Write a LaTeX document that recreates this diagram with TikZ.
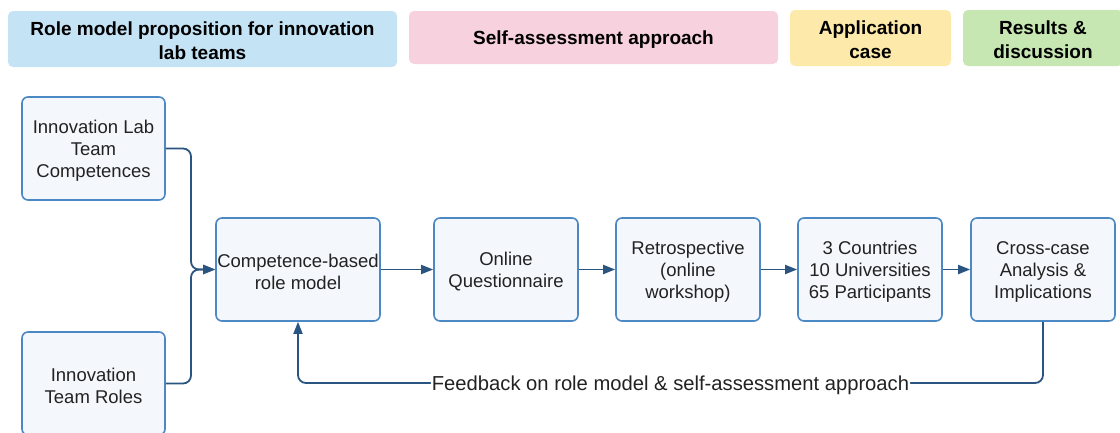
\documentclass[tikz,border=0pt]{standalone}
\usepackage{fontspec}
\setmainfont{Liberation Sans}
\usetikzlibrary{arrows.meta}
\definecolor{boxborder}{HTML}{4C88C4}
\definecolor{boxfill}{HTML}{F4F8FC}
\definecolor{arrc}{HTML}{2A5580}
\definecolor{hblue}{HTML}{C4E3F5}
\definecolor{hpink}{HTML}{F8D1DF}
\definecolor{hyellow}{HTML}{FDE9A9}
\definecolor{hgreen}{HTML}{C7E7B2}
\definecolor{txt}{HTML}{222222}
\tikzset{
  procbox/.style={draw=boxborder, fill=boxfill, line width=1.6pt, rounded corners=6pt,
    inner sep=0pt, minimum height=103pt},
  proctext/.style={align=center, text=txt, font=\fontsize{18.5}{22}\selectfont, inner sep=0pt},
  headbox/.style={rounded corners=5pt, inner sep=0pt},
  headtext/.style={align=center, text=black, font=\fontsize{19}{24}\selectfont\bfseries, inner sep=0pt},
  conn/.style={draw=arrc, line width=1.8pt, rounded corners=8pt},
  arr/.style={conn, -{Triangle[length=12pt,width=9pt]}},
}
\begin{document}
\begin{tikzpicture}[x=1pt,y=-1pt]
\useasboundingbox (0,0) rectangle (1120,432);
% headers
\node[headbox, fill=hblue, minimum width=389pt, minimum height=56pt] (h1) at (202.5,39) {};
\node[headtext] (h1t) at ([yshift=-2pt]h1.center) {Role model proposition for innovation\\lab teams};
\node[headbox, fill=hpink, minimum width=369pt, minimum height=53pt] (h2) at (593.5,37.5) {};
\node[headtext] (h2t) at ([yshift=-2pt]h2.center) {Self-assessment approach};
\node[headbox, fill=hyellow, minimum width=161pt, minimum height=56pt] (h3) at (870.5,38) {};
\node[headtext] (h3t) at ([yshift=-2pt]h3.center) {Application\\case};
\node[headbox, fill=hgreen, minimum width=160pt, minimum height=56pt] (h4) at (1043,38) {};
\node[headtext] (h4t) at ([yshift=-2pt]h4.center) {Results \&\\discussion};
% process boxes
\node[procbox, minimum width=143pt] (comp) at (93.5,148.5) {};
\node[proctext] (compt) at ([yshift=-2pt]comp.center) {Innovation Lab\\Team\\Competences};
\node[procbox, minimum width=143pt] (roles) at (93.5,383.5) {};
\node[proctext] (rolest) at ([yshift=-2pt]roles.center) {Innovation\\Team Roles};
\node[procbox, minimum width=164pt] (crbm) at (298,269.5) {};
\node[proctext] (crbmt) at ([yshift=-2pt]crbm.center) {Competence-based\\role model};
\node[procbox, minimum width=144pt] (onq) at (506,269.5) {};
\node[proctext] (onqt) at ([yshift=-2pt]onq.center) {Online\\Questionnaire};
\node[procbox, minimum width=144pt] (retro) at (688,269.5) {};
\node[proctext] (retrot) at ([yshift=-2pt]retro.center) {Retrospective\\(online\\workshop)};
\node[procbox, minimum width=144pt] (ctry) at (870,269.5) {};
\node[proctext] (ctryt) at ([yshift=-2pt]ctry.center) {3 Countries\\10 Universities\\65 Participants};
\node[procbox, minimum width=144pt] (cross) at (1043,269.5) {};
\node[proctext] (crosst) at ([yshift=-2pt]cross.center) {Cross-case\\Analysis \&\\Implications};
% connectors
\coordinate (j) at (191,269.5);
\draw[arr] (comp.east) -- (j |- comp.east) -- (j) -- (crbm.west);
\draw[arr] (roles.east) -- (j |- roles.east) -- (j) -- (crbm.west);
\draw[arr] (crbm) -- (onq);
\draw[arr] (onq) -- (retro);
\draw[arr] (retro) -- (ctry);
\draw[arr] (ctry) -- (cross);
\coordinate (fb) at (0,383);
\draw[arr] (cross.south) -- (cross.south |- fb) -- node[fill=white, text=txt, inner xsep=1pt, inner ysep=3pt, yshift=-2pt, font=\fontsize{20.2}{22}\selectfont]{Feedback on role model \& self-assessment approach} (crbm.south |- fb) -- (crbm.south);
\end{tikzpicture}
\end{document}
